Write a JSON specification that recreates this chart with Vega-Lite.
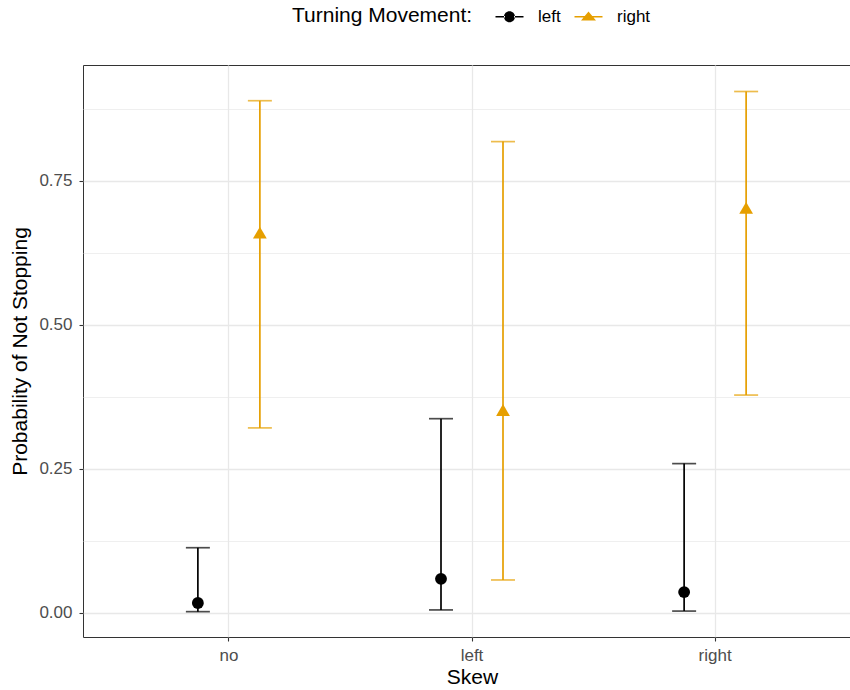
{
  "$schema": "https://vega.github.io/schema/vega-lite/v6.json",
  "autosize": "none",
  "padding": {"left": 83, "top": 65, "right": 0, "bottom": 53},
  "width": 778,
  "height": 572,
  "background": "white",
  "config": {
    "font": "Liberation Sans",
    "view": {"stroke": "#333333", "strokeWidth": 1},
    "axis": {
      "labelFont": "Liberation Sans",
      "titleFont": "Liberation Sans",
      "labelFontSize": 17,
      "labelColor": "#4d4d4d",
      "titleFontSize": 21,
      "titleFontWeight": "normal",
      "titleColor": "#000000",
      "tickColor": "#333333",
      "tickSize": 4,
      "tickWidth": 1.1,
      "domain": false,
      "gridColor": "#e8e8e8",
      "gridWidth": 1.3
    },
    "legend": {
      "labelFont": "Liberation Sans",
      "titleFont": "Liberation Sans"
    }
  },
  "data": {
    "values": [
      {"skew": "no", "turn": "left", "prob": 0.017, "lo": 0.002, "hi": 0.113},
      {"skew": "no", "turn": "right", "prob": 0.660, "lo": 0.321, "hi": 0.889},
      {"skew": "left", "turn": "left", "prob": 0.059, "lo": 0.005, "hi": 0.337},
      {"skew": "left", "turn": "right", "prob": 0.352, "lo": 0.057, "hi": 0.818},
      {"skew": "right", "turn": "left", "prob": 0.036, "lo": 0.003, "hi": 0.259},
      {"skew": "right", "turn": "right", "prob": 0.703, "lo": 0.378, "hi": 0.905}
    ]
  },
  "encoding": {
    "x": {
      "field": "skew",
      "type": "nominal",
      "sort": ["no", "left", "right"],
      "scale": {"type": "band", "paddingInner": 0.49, "paddingOuter": 0.345},
      "axis": {"title": "Skew", "labelAngle": 0, "labelPadding": 6, "titlePadding": 3, "grid": true}
    },
    "xOffset": {
      "field": "turn",
      "type": "nominal",
      "sort": ["left", "right"],
      "scale": {"paddingInner": 0, "paddingOuter": 0}
    },
    "color": {
      "field": "turn",
      "type": "nominal",
      "sort": ["left", "right"],
      "scale": {"domain": ["left", "right"], "range": ["#000000", "#E69F00"]},
      "legend": {
        "title": "Turning Movement:",
        "orient": "none",
        "direction": "horizontal",
        "titleOrient": "left",
        "titleLimit": 400,
        "legendX": 209,
        "legendY": -57,
        "titleFontSize": 21,
        "titleFontWeight": "normal",
        "titleColor": "#000000",
        "labelFontSize": 17,
        "labelColor": "#000000",
        "symbolSize": 100,
        "columnPadding": 13,
        "labelOffset": 20,
        "titlePadding": 28,
        "encode": {
          "symbols": {
            "enter": {
              "shape": {"signal": "datum.value === 'left' ? 'M-2.8,-0.15H-0.9V0.15H-2.8Z M0.9,-0.15H2.8V0.15H0.9Z M-1.1,0A1.1,1.1 0 1,0 1.1,0A1.1,1.1 0 1,0 -1.1,0Z' : 'M-2.8,-0.15H2.8V0.15H-2.8Z M-1.5,0.75L0,-1.05L1.5,0.75Z'"}
            },
            "update": {
              "shape": {"signal": "datum.value === 'left' ? 'M-2.8,-0.15H-0.9V0.15H-2.8Z M0.9,-0.15H2.8V0.15H0.9Z M-1.1,0A1.1,1.1 0 1,0 1.1,0A1.1,1.1 0 1,0 -1.1,0Z' : 'M-2.8,-0.15H2.8V0.15H-2.8Z M-1.5,0.75L0,-1.05L1.5,0.75Z'"},
              "fill": {"signal": "datum.value === 'left' ? '#000000' : '#E69F00'"},
              "strokeWidth": {"value": 0},
              "opacity": {"value": 1}
            }
          }
        }
      }
    }
  },
  "layer": [
    {
      "mark": {"type": "rule", "strokeWidth": 1.7},
      "encoding": {
        "y": {
          "field": "lo",
          "type": "quantitative",
          "scale": {"domain": [-0.042, 0.951], "nice": false, "zero": false},
          "axis": {"title": "Probability of Not Stopping", "values": [0, 0.25, 0.5, 0.75], "format": ".2f", "grid": true, "labelPadding": 7, "titlePadding": 8}
        },
        "y2": {"field": "hi"}
      }
    },
    {
      "mark": {"type": "tick", "size": 24, "thickness": 1.7},
      "encoding": {
        "y": {"field": "lo", "type": "quantitative", "axis": null}
      }
    },
    {
      "mark": {"type": "tick", "size": 24, "thickness": 1.7},
      "encoding": {
        "y": {"field": "hi", "type": "quantitative", "axis": null}
      }
    },
    {
      "transform": [{"filter": "datum.turn === 'left'"}],
      "mark": {"type": "point", "filled": true, "opacity": 1, "shape": "circle", "size": 140},
      "encoding": {
        "y": {
          "field": "prob",
          "type": "quantitative",
          "axis": {"title": null, "values": [0.125, 0.375, 0.625, 0.875], "labels": false, "ticks": false, "grid": true, "gridWidth": 0.7, "domain": false}
        }
      }
    },
    {
      "transform": [{"filter": "datum.turn === 'right'"}],
      "mark": {"type": "point", "filled": true, "opacity": 1, "shape": "triangle-up", "size": 190},
      "encoding": {
        "y": {"field": "prob", "type": "quantitative", "axis": null}
      }
    }
  ],
  "resolve": {"axis": {"y": "independent"}}
}
